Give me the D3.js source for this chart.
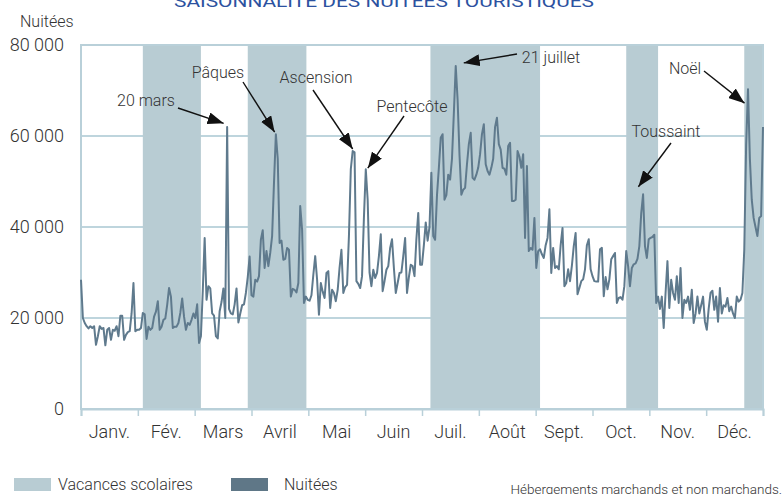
<!DOCTYPE html>
<html>
<head>
<meta charset="utf-8">
<script src="https://cdn.jsdelivr.net/npm/d3@7"></script>
<style>
  body { margin: 0; background: #fff; }
  svg { display: block; font-family: Roboto, "Noto Sans", sans-serif; font-weight: 300; }
</style>
</head>
<body>
<div id="chart"></div>
<script>
// nuitées journalières (milliers)
const jan = [28.4, 20, 18.9, 18.2, 17.7, 18.2, 17.8, 18.2, 14.1, 16, 18.2, 17.6, 17.8, 14, 17.4, 17.8,
  15.2, 17.4, 17.2, 18.2, 16, 20.5, 20.5, 15.2, 16.3, 16.9, 17.1, 21, 27.7, 17.1, 17.4];
const feb = [17.4, 17.8, 21.1, 20.8, 15.4, 18.1, 17.4, 17.8, 20.3, 21.4, 23.7, 17.4, 18.1, 19.6, 19.9,
  22.9, 26.6, 24.7, 17.8, 18.1, 18.1, 18.9, 21.1, 24.3, 20.3, 17.4, 18.9, 18.5, 19.6, 21];
const mar = [20, 23, 14.5, 16, 26, 37.6, 24, 27, 26.5, 21, 20.5, 16, 15.5, 21.5, 23.5, 26.5, 20, 62,
  22, 21, 20.8, 23, 26.5, 19, 21, 22.8, 23, 25.5, 29, 33.5, 25];
const apr = [24.7, 28.4, 28, 29.2, 37.2, 39.3, 31, 34.7, 31.4, 34.3, 38, 49.7, 60.4, 55, 36.5, 37,
  32.8, 33, 35.4, 35, 24.7, 26.4, 26.2, 25.6, 27.7, 44.6, 39.4, 23.3, 24.7, 24];
const may = [23.8, 25, 29.5, 33.6, 28.5, 20.7, 27.7, 25.8, 24.4, 29.9, 30.3, 22.2, 26.2, 25.5, 23.7,
  26.2, 31, 35, 25.5, 26.8, 27.3, 38, 52.7, 56.7, 56.4, 28.1, 27.5, 26.6, 29.2, 42];
const jun = [52.7, 46, 30, 27, 30.6, 28.8, 29.9, 33.6, 38.4, 25.9, 28.1, 30.6, 31.4, 35.4, 37.3, 31,
  25.5, 27.7, 29.9, 30, 33.6, 37.6, 25.5, 29, 31.7, 31.4, 29.2, 37.3, 43.1, 31.7];
const jul = [31.7, 36, 41, 37, 40, 51.9, 38, 37.2, 47, 53, 59.6, 60.4, 46, 47, 51.5, 50.4, 55, 65,
  75.4, 68, 56, 47.1, 48.2, 48.6, 53.8, 58.2, 60.7, 50.8, 50.4, 51.5];
const aug = [53, 56, 60.4, 62.6, 53.8, 52.3, 51.5, 53, 55, 62, 64, 58.2, 57, 53, 52.8, 51.5, 57.8,
  58.5, 45.7, 45.7, 46, 56.7, 55.5, 53, 56, 37.6, 53.4, 34.7, 35.4, 35, 42];
const sep = [31, 34.7, 35.1, 34, 33.2, 36, 37.6, 43.9, 29.9, 35.4, 31, 31.4, 30.7, 36, 39.8, 27, 27.7,
  30.7, 28.1, 31.5, 35.8, 38.7, 25.2, 26.6, 28.1, 28.5, 30.7, 36, 37.3, 30.7];
const oct = [29.2, 28.1, 28, 28, 35.1, 35.4, 24.8, 29, 26.3, 28.5, 32.9, 33.6, 34.3, 23.3, 24.4, 24.6,
  24, 27, 34.7, 31.4, 27, 31, 31.8, 32, 33, 35.8, 43, 47.2, 35.8, 33.2, 37.3];
const nov = [37.6, 37.8, 38.3, 23.3, 24.7, 22, 24.7, 17.8, 25.5, 32.5, 22.2, 28.4, 25.5, 24, 29.2,
  23.3, 31, 20, 24, 23.3, 24.7, 21.8, 26.2, 18.9, 21, 24.7, 21, 22.8, 24.7, 19.2];
const dec = [17.4, 22, 25.5, 26, 21.8, 24.7, 19.2, 26.6, 21, 22.8, 22.5, 24.4, 21.5, 22.5, 21, 20,
  24.7, 23.6, 24, 25.5, 35, 58, 70.3, 55, 46, 42, 40, 38, 42, 42.4, 62];

const months = ["Janv.", "Fév.", "Mars", "Avril", "Mai", "Juin", "Juil.", "Août", "Sept.", "Oct.", "Nov.", "Déc."];
const yTicks = [0, 20000, 40000, 60000, 80000];
// vacances scolaires (jour de l'année, début / fin)
const vacances = [[33, 64], [89, 120.3], [186.5, 245], [291, 308], [354, 364]];

const nuitees = [jan, feb, mar, apr, may, jun, jul, aug, sep, oct, nov, dec].flat().map(v => v * 1000);

// annotations : jour ciblé + mise en page (texte, départ de la flèche, décalage de la pointe)
const notes = [
  {label: "20 mars", day: 78, tx: 146, ty: 100, sx: 178, sy: 108, dx: -3.5, dy: -3.6},
  {label: "Pâques", day: 104, tx: 218, ty: 72, sx: 243, sy: 82, dx: -1.2, dy: -2},
  {label: "Ascension", day: 145, tx: 316, ty: 77, sx: 313, sy: 90, dx: 0, dy: -2},
  {label: "Pentecôte", day: 152, tx: 412, ty: 106, sx: 404, sy: 116, dx: 2, dy: -1},
  {label: "21 juillet", day: 200, tx: 551, ty: 57, sx: 517, sy: 54, dx: 8, dy: -3},
  {label: "Toussaint", day: 300, tx: 666, ty: 131, sx: 671, sy: 143, dx: -4.7, dy: -7.5},
  {label: "Noël", day: 356, tx: 685, ty: 68, sx: 704, sy: 71, dx: -3.5, dy: 14}
];

const W = 783, H = 494;
const plot = {left: 81, right: 763, top: 45, bottom: 409};
const textColor = "#333";

const svg = d3.select("#chart").append("svg")
  .attr("width", W)
  .attr("height", H);

const x = d3.scaleLinear().domain([0, nuitees.length - 1]).range([plot.left, plot.right]);
const y = d3.scaleLinear().domain([0, 80000]).range([plot.bottom, plot.top]);

// titre (coupé en haut)
svg.append("text")
  .attr("x", 384)
  .attr("y", 7)
  .attr("text-anchor", "middle")
  .attr("fill", "#2c52a0")
  .attr("font-size", 17)
  .attr("font-weight", 400)
  .attr("textLength", 420)
  .attr("lengthAdjust", "spacingAndGlyphs")
  .text("SAISONNALITÉ DES NUITÉES TOURISTIQUES");

svg.append("text")
  .attr("x", 20)
  .attr("y", 27)
  .attr("fill", textColor)
  .attr("font-size", 16)
  .text("Nuitées");

// quadrillage
svg.append("g")
  .selectAll("line")
  .data(yTicks.filter(d => d > 0 && d < 80000))
  .join("line")
    .attr("x1", plot.left)
    .attr("x2", plot.right)
    .attr("y1", d => y(d))
    .attr("y2", d => y(d))
    .attr("stroke", "#a9c7d2")
    .attr("stroke-width", 1.5);

// bandes vacances
svg.append("g")
  .selectAll("rect")
  .data(vacances)
  .join("rect")
    .attr("x", d => x(d[0]))
    .attr("y", plot.top)
    .attr("width", d => x(d[1]) - x(d[0]))
    .attr("height", plot.bottom - plot.top)
    .attr("fill", "#b8ccd3");

// cadre
svg.append("rect")
  .attr("x", plot.left)
  .attr("y", plot.top)
  .attr("width", plot.right - plot.left)
  .attr("height", plot.bottom - plot.top)
  .attr("fill", "none")
  .attr("stroke", "#b9d0d9")
  .attr("stroke-width", 2);

// axe x
const tickDays = d3.range(13).map(i => i * (nuitees.length - 1) / 12);
const xAxis = svg.append("g")
  .attr("transform", `translate(0,${plot.bottom})`)
  .call(d3.axisBottom(x).tickValues(tickDays).tickSize(7).tickFormat(""));
xAxis.select(".domain").attr("stroke", "#b9d0d9").attr("stroke-width", 2);
xAxis.selectAll(".tick line").attr("stroke", "#b9d0d9").attr("stroke-width", 1.5);

svg.append("g")
  .selectAll("text")
  .data(months)
  .join("text")
    .attr("x", (d, i) => (x(tickDays[i]) + x(tickDays[i + 1])) / 2)
    .attr("y", 438)
    .attr("text-anchor", "middle")
    .attr("fill", textColor)
    .attr("font-size", 18)
    .text(d => d);

// étiquettes axe y
const fmt = d => d3.format(",")(d).replace(/,/g, " ");
svg.append("g")
  .selectAll("text")
  .data(yTicks)
  .join("text")
    .attr("x", 64)
    .attr("y", d => y(d))
    .attr("dy", "0.35em")
    .attr("text-anchor", "end")
    .attr("fill", textColor)
    .attr("font-size", 18)
    .text(fmt);

// courbe
const line = d3.line()
  .x((d, i) => x(i))
  .y(d => y(d));

svg.append("path")
  .datum(nuitees)
  .attr("fill", "none")
  .attr("stroke", "#5f7a8d")
  .attr("stroke-width", 2)
  .attr("stroke-linejoin", "round")
  .attr("d", line);

// flèches
svg.append("defs").append("marker")
  .attr("id", "arrow")
  .attr("viewBox", "0 0 16 12")
  .attr("refX", 16)
  .attr("refY", 6)
  .attr("markerWidth", 16)
  .attr("markerHeight", 12)
  .attr("markerUnits", "userSpaceOnUse")
  .attr("orient", "auto")
  .append("path")
    .attr("d", "M0,0L16,6L0,12Z")
    .attr("fill", "#111");

const ann = svg.append("g");
ann.selectAll("line")
  .data(notes)
  .join("line")
    .attr("x1", d => d.sx)
    .attr("y1", d => d.sy)
    .attr("x2", d => x(d.day) + d.dx)
    .attr("y2", d => y(nuitees[d.day]) + d.dy)
    .attr("stroke", "#111")
    .attr("stroke-width", 1.4)
    .attr("marker-end", "url(#arrow)");

ann.selectAll("text")
  .data(notes)
  .join("text")
    .attr("x", d => d.tx)
    .attr("y", d => d.ty)
    .attr("dy", "0.35em")
    .attr("text-anchor", "middle")
    .attr("fill", textColor)
    .attr("font-size", 16)
    .text(d => d.label);

// légende
const legend = [
  {label: "Vacances scolaires", color: "#b8ccd3", x: 14},
  {label: "Nuitées", color: "#5f7787", x: 231}
];
const lg = svg.append("g")
  .selectAll("g")
  .data(legend)
  .join("g")
    .attr("transform", d => `translate(${d.x},478)`);
lg.append("rect")
  .attr("width", 37)
  .attr("height", 13)
  .attr("fill", d => d.color);
lg.append("text")
  .attr("x", (d, i) => i === 0 ? 44 : 53)
  .attr("y", 12)
  .attr("fill", textColor)
  .attr("font-size", 16)
  .text(d => d.label);

svg.append("text")
  .attr("x", 782)
  .attr("y", 494)
  .attr("text-anchor", "end")
  .attr("fill", textColor)
  .attr("font-size", 13.5)
  .text("Hébergements marchands et non marchands.");
</script>
</body>
</html>
